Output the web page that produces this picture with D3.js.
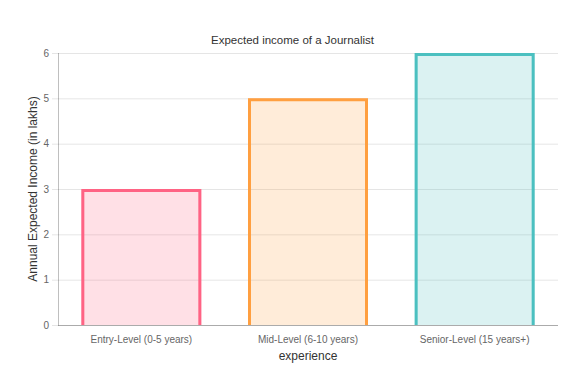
<!DOCTYPE html>
<html><head><meta charset="utf-8">
<script src="https://cdn.jsdelivr.net/npm/d3@7/dist/d3.min.js"></script>
<style>body{margin:0;background:#fff}svg{display:block}text{font-family:"Liberation Sans",Arial,Helvetica,sans-serif}</style>
</head><body>
<script>
const categories = ["Entry-Level (0-5 years)", "Mid-Level (6-10 years)", "Senior-Level (15 years+)"];
const values = [3, 5, 6];
const yTicks = [0, 1, 2, 3, 4, 5, 6];
const strokeColors = ["rgb(255,99,132)", "rgb(255,159,64)", "rgb(75,192,192)"];
const fillColors = ["rgba(255,99,132,0.2)", "rgba(255,159,64,0.2)", "rgba(75,192,192,0.2)"];

const W = 585, H = 390;
const m = {left: 58, right: 27, top: 53, bottom: 65};
const svg = d3.select("body").append("svg").attr("width", W).attr("height", H);

const x = d3.scaleBand().domain(categories).range([m.left, W - m.right]).paddingInner(0).paddingOuter(0);
const y = d3.scaleLinear().domain([0, 6]).range([H - m.bottom, m.top]);

// grid
svg.append("g").selectAll("line").data(yTicks).join("line")
  .attr("x1", m.left - 6).attr("x2", W - m.right)
  .attr("y1", d => y(d) + 0.5).attr("y2", d => y(d) + 0.5)
  .attr("stroke", "rgba(0,0,0,0.1)");

// y tick labels
svg.append("g").selectAll("text").data(yTicks).join("text")
  .attr("x", m.left - 9).attr("y", d => y(d)).attr("dy", "0.35em")
  .attr("text-anchor", "end").attr("font-size", 10).attr("fill", "#666").text(d => d);

// bars
const bw = x.bandwidth() * 0.72;
const bwBorder = 3;
const g = svg.append("g");
categories.forEach((c, i) => {
  const cx = x(c) + x.bandwidth() / 2;
  const x0 = cx - bw / 2, x1 = cx + bw / 2;
  const yt = y(values[i]), yb = y(0);
  g.append("rect").attr("x", x0).attr("y", yt).attr("width", bw).attr("height", yb - yt)
    .attr("fill", fillColors[i]);
  const h = bwBorder / 2;
  g.append("path")
    .attr("d", `M${x0 + h},${yb} L${x0 + h},${yt + h} L${x1 - h},${yt + h} L${x1 - h},${yb}`)
    .attr("fill", "none").attr("stroke", strokeColors[i]).attr("stroke-width", bwBorder);
});

// axis lines
svg.append("line").attr("x1", m.left + 0.5).attr("x2", m.left + 0.5).attr("y1", m.top).attr("y2", H - m.bottom + 0.5)
  .attr("stroke", "rgba(0,0,0,0.25)");
svg.append("line").attr("x1", m.left).attr("x2", W - m.right).attr("y1", H - m.bottom + 0.5).attr("y2", H - m.bottom + 0.5)
  .attr("stroke", "rgba(0,0,0,0.25)");

// x tick labels
svg.append("g").selectAll("text").data(categories).join("text")
  .attr("x", d => x(d) + x.bandwidth() / 2).attr("y", H - m.bottom + 14).attr("dy", "0.35em")
  .attr("text-anchor", "middle").attr("font-size", 10).attr("fill", "#666").text(d => d);

// titles
svg.append("text").attr("x", W / 2).attr("y", 40).attr("dy", "0.35em")
  .attr("text-anchor", "middle").attr("font-size", 11.5).attr("fill", "#333").text("Expected income of a Journalist");
svg.append("text").attr("x", (m.left + W - m.right) / 2).attr("y", 356).attr("dy", "0.35em")
  .attr("text-anchor", "middle").attr("font-size", 12).attr("fill", "#333").text("experience");
svg.append("text").attr("transform", `translate(33,${(m.top + H - m.bottom) / 2}) rotate(-90)`).attr("dy", "0.35em")
  .attr("text-anchor", "middle").attr("font-size", 12).attr("fill", "#333").text("Annual Expected Income (in lakhs)");
</script>
</body></html>
